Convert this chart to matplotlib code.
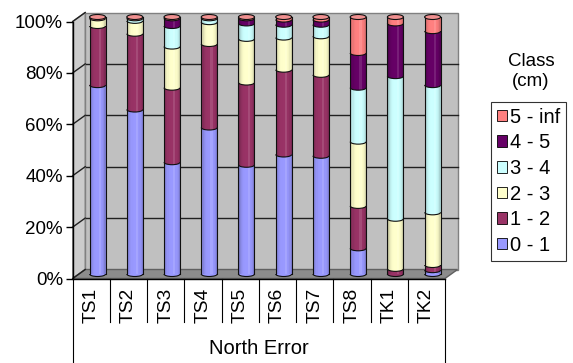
import numpy as np
import matplotlib.pyplot as plt
from matplotlib.patches import Rectangle, Ellipse, Arc, Polygon, Patch
from matplotlib.transforms import ScaledTranslation, IdentityTransform

plt.rcParams['font.family'] = ['Liberation Sans', 'DejaVu Sans']

# share of each error class per station (percent)
sites = ['TS1', 'TS2', 'TS3', 'TS4', 'TS5', 'TS6', 'TS7', 'TS8', 'TK1', 'TK2']
classes = ['0 - 1', '1 - 2', '2 - 3', '3 - 4', '4 - 5', '5 - inf']
cls_0_1 = [73.5, 64.0, 43.5, 57.0, 42.5, 46.5, 46.0, 10.0, 0.0, 1.5]
cls_1_2 = [23.0, 29.5, 29.0, 32.5, 32.0, 33.0, 31.5, 16.5, 2.0, 2.0]
cls_2_3 = [3.0, 5.0, 16.0, 8.5, 17.0, 12.5, 15.0, 25.0, 19.5, 20.5]
cls_3_4 = [0.0, 1.0, 8.0, 1.5, 6.0, 5.0, 4.5, 21.0, 55.5, 49.5]
cls_4_5 = [0.0, 0.0, 3.0, 0.0, 2.0, 2.0, 2.0, 13.5, 20.5, 21.0]
cls_5_inf = [0.5, 0.5, 0.5, 0.5, 0.5, 1.0, 1.0, 14.0, 2.5, 5.5]

colors = ['#9999ff', '#993366', '#ffffcc', '#ccffff', '#660066', '#ff8080']
caps = ['#b0b0ff', '#b04c80', '#ffffe0', '#e0ffff', '#803080', '#f09090']

W_PX, H_PX = 573, 363
fig = plt.figure(figsize=(W_PX / 100, H_PX / 100), dpi=100)
ax = fig.add_axes([72.7 / W_PX, (H_PX - 278.5) / H_PX, (445 - 72.7) / W_PX, 257 / H_PX])
ax.set_xlim(-0.5, 9.5)
ax.set_ylim(0, 100)
ax.set_autoscale_on(False)
ax.patch.set_visible(False)

# depth of the 3d box in pixels
DX, DY = 12.5, 9.0
PX_PER_PCT = 257 / 100


def depth(t):
    return ax.transData + ScaledTranslation(t * DX / fig.dpi, t * DY / fig.dpi, fig.dpi_scale_trans)


def px(x, y, t):
    p = ax.transData.transform((x, y))
    return (p[0] + t * DX, p[1] + t * DY)


ident = IdentityTransform()

# walls and floor
ax.add_patch(Rectangle((-0.5, 0), 10, 100, transform=depth(1), fc='#c0c0c0', ec='#808080',
                       lw=1, zorder=0, clip_on=False))
ax.add_patch(Polygon([px(-0.5, 0, 0), px(-0.5, 100, 0), px(-0.5, 100, 1), px(-0.5, 0, 1)],
                     closed=True, transform=ident, fc='#cccccc', ec='#808080', lw=1, zorder=0.5,
                     clip_on=False))
ax.add_patch(Polygon([px(-0.5, 0, 0), px(9.5, 0, 0), px(9.5, 0, 1), px(-0.5, 0, 1)],
                     closed=True, transform=ident, fc='#8c8c8c', ec='#606060', lw=1, zorder=0.6,
                     clip_on=False))
for v in range(20, 100, 20):
    ax.plot([-0.5, 9.5], [v, v], transform=depth(1), color='#202020', lw=1, zorder=0.3,
            clip_on=False)
for v in range(0, 101, 20):
    a, b = px(-0.5, v, 0), px(-0.5, v, 1)
    ax.plot([a[0], b[0]], [a[1], b[1]], transform=ident, color='#202020', lw=1, zorder=0.7,
            clip_on=False)

# stacked cylinders, normalised to 100 %
data = np.array([cls_0_1, cls_1_2, cls_2_3, cls_3_4, cls_4_5, cls_5_inf])
pct = data / data.sum(axis=0) * 100
bw = 0.43
eh = 5.0 / PX_PER_PCT
tr = depth(0.5)
for i in range(len(sites)):
    z = 2 + i
    base = 0.0
    top_k = 0
    for k in range(len(classes)):
        v = pct[k, i]
        if v <= 0:
            continue
        ax.add_patch(Ellipse((i, base), bw, eh, fc=colors[k], ec='none', transform=tr,
                             zorder=z, clip_on=False))
        ax.add_patch(Rectangle((i - bw / 2, base), bw, v, fc=colors[k], ec='none', transform=tr,
                               zorder=z, clip_on=False))
        base += v
        top_k = k
    # round shading across the cylinder
    n = 14
    for j in range(n):
        u = (j + 0.5) / n * 2 - 1
        dark = 0.28 * abs(u) ** 3 if u < 0 else 0.22 * u ** 4
        ax.add_patch(Rectangle((i - bw / 2 + j * bw / n, 0), bw / n, 100, fc='black', alpha=dark,
                               ec='none', transform=tr, zorder=z + 0.1, clip_on=False))
        if 0.1 < u < 0.45:
            ax.add_patch(Rectangle((i - bw / 2 + j * bw / n, 0), bw / n, 100, fc='white',
                                   alpha=0.12, ec='none', transform=tr, zorder=z + 0.1,
                                   clip_on=False))
    base = 0.0
    for k in range(len(classes)):
        v = pct[k, i]
        if v <= 0:
            continue
        ax.add_patch(Arc((i, base), bw, eh, theta1=180, theta2=360, color='#101010', lw=0.8,
                         transform=tr, zorder=z + 0.2, clip_on=False))
        base += v
    for xs in (i - bw / 2, i + bw / 2):
        ax.plot([xs, xs], [0, 100], transform=tr, color='#101010', lw=0.8, zorder=z + 0.2,
                clip_on=False)
    ax.add_patch(Ellipse((i, 100), bw, eh, fc=caps[top_k], ec='#101010', lw=0.8, transform=tr,
                         zorder=z + 0.3, clip_on=False))

# value axis
for side in ('top', 'right'):
    ax.spines[side].set_visible(False)
ax.spines['left'].set_linewidth(1)
ax.spines['bottom'].set_linewidth(1)
ax.spines['left'].set_zorder(1)
ax.spines['bottom'].set_zorder(1)
ax.set_yticks(range(0, 101, 20))
ax.set_yticklabels([f'{v}%' for v in range(0, 101, 20)])
ax.tick_params(axis='y', length=5, width=1, labelsize=13.5, pad=2)
ax.set_xticks([])

# category table below the floor
sep_bottom = -43.5 / PX_PER_PCT
for k in range(len(sites) + 1):
    y_end = -34 if k in (0, len(sites)) else sep_bottom
    ax.plot([k - 0.5, k - 0.5], [0, y_end], color='black', lw=0.8, clip_on=False)
for i, s in enumerate(sites):
    ax.text(i, -26.5 / PX_PER_PCT, s, rotation=90, ha='center', va='center', fontsize=13.8)
ax.text(4.5, -69.5 / PX_PER_PCT, 'North Error', ha='center', va='center', fontsize=14.5)

# legend
handles = [Patch(facecolor=c, edgecolor='black', lw=0.6) for c in colors][::-1]
leg = fig.legend(handles, classes[::-1], loc='upper left',
                 bbox_to_anchor=(491 / W_PX, 1 - 102 / H_PX), bbox_transform=fig.transFigure,
                 frameon=True, fancybox=False, edgecolor='black', fontsize=14.5,
                 handlelength=0.5, handleheight=0.5, handletextpad=0.15, labelspacing=0.33,
                 borderpad=0.28, borderaxespad=0)
leg.get_frame().set_linewidth(0.8)
fig.text(531 / W_PX, 1 - 71.5 / H_PX, 'Class\n(cm)', ha='center', va='center', fontsize=13.5,
         linespacing=1.3)

fig.savefig('out.png', dpi=100, facecolor='white')
